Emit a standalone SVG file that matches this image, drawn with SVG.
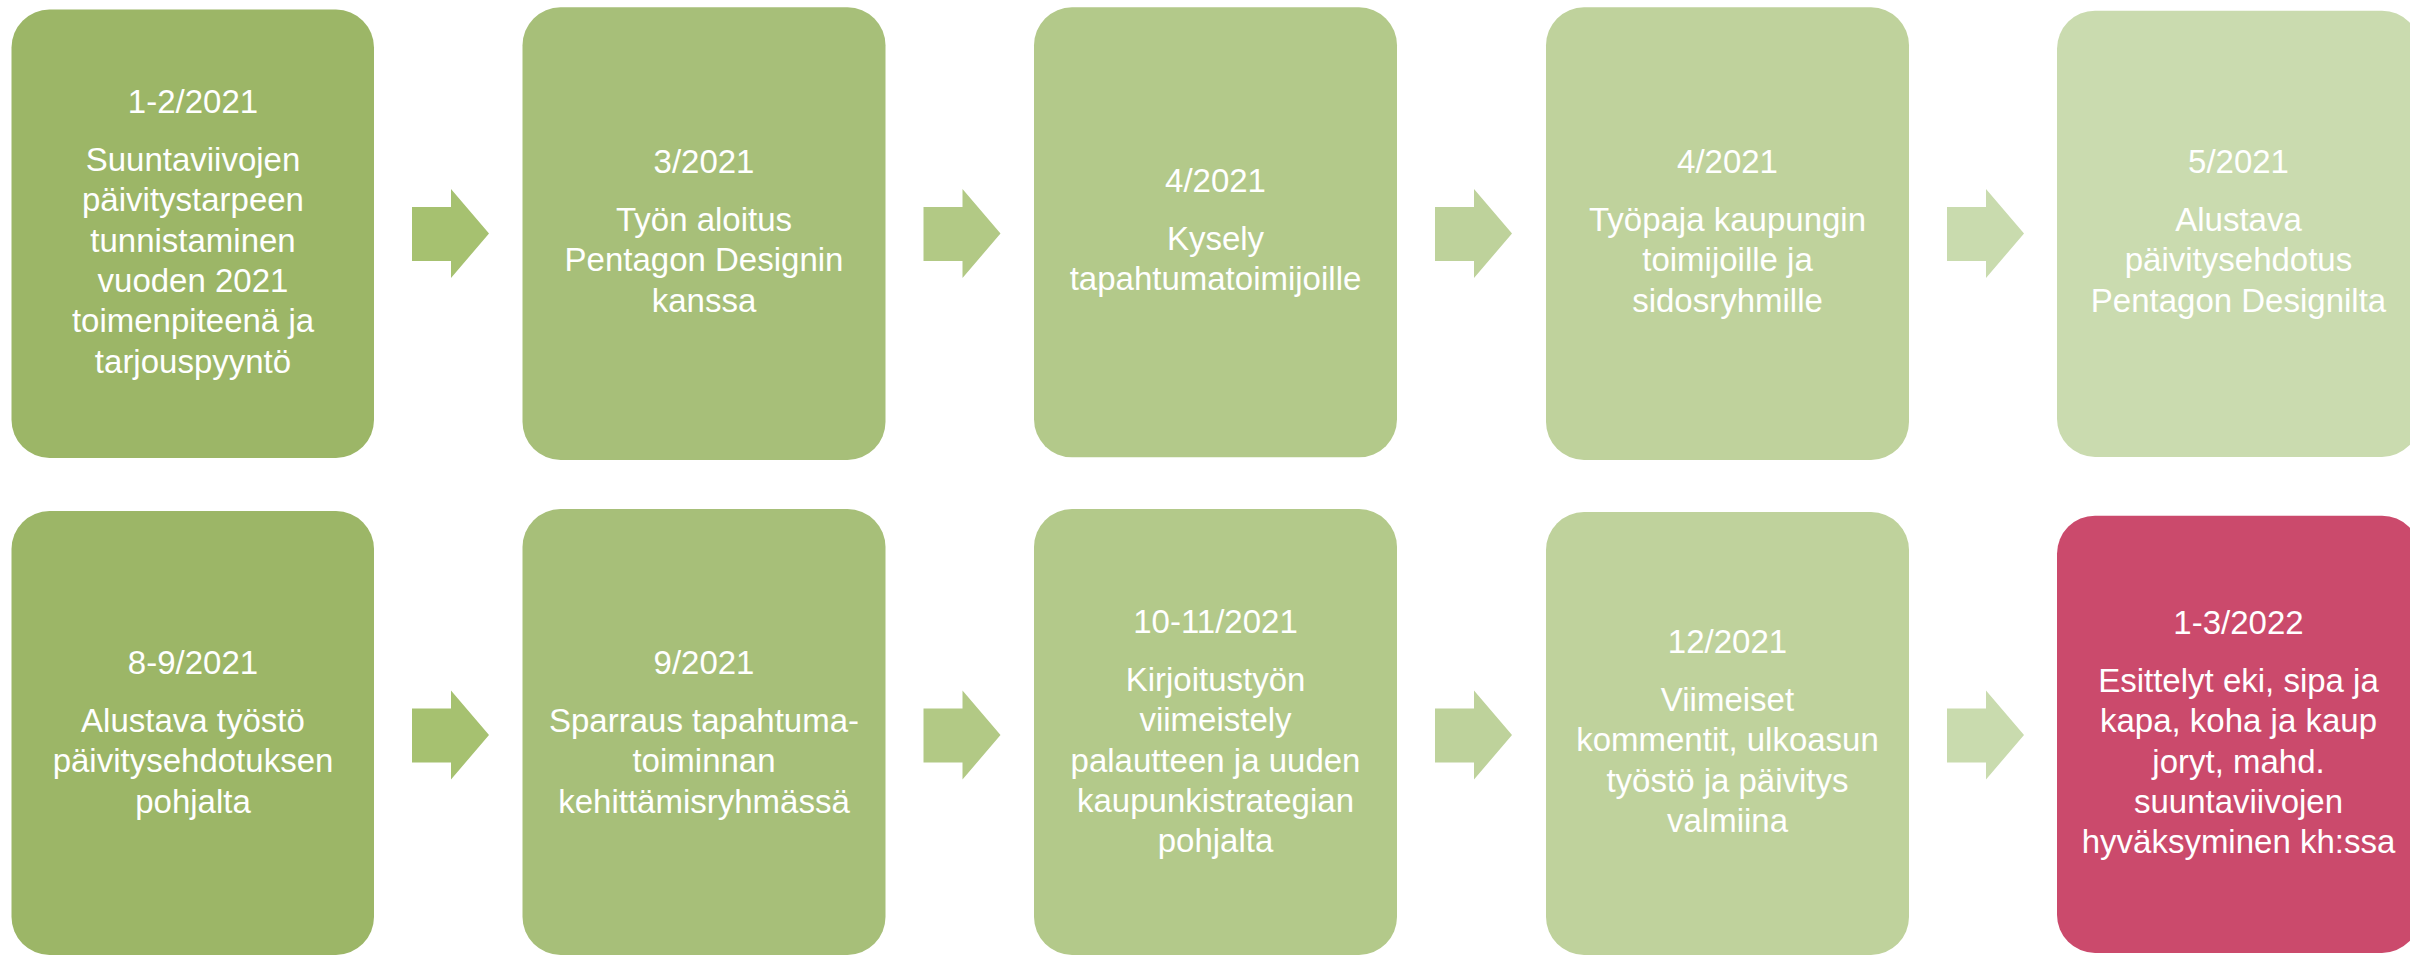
<svg xmlns="http://www.w3.org/2000/svg" width="2410" height="957" viewBox="0 0 2410 957">
<style>
text{font-family:"Liberation Sans",Arial,sans-serif;font-size:33px;fill:#ffffff;text-anchor:middle}
.c1{fill:#9cb667}.c2{fill:#a7bf79}.c3{fill:#b3c98a}.c4{fill:#bfd29c}.c5{fill:#cadbaf}.c6{fill:#cb4a6c}
.a1{fill:#a6c170}.a2{fill:#b2c985}.a3{fill:#bed29b}.a4{fill:#c9dbae}
</style>
<defs>
<path id="arr" d="M0,0 H39 V-18 L77,26.5 L39,71 V54 H0 Z"/>
</defs>
<rect width="2410" height="957" fill="#ffffff"/>
<g id="connectors">
<use href="#arr" class="a1" x="412" y="207"/>
<use href="#arr" class="a2" x="923.5" y="207"/>
<use href="#arr" class="a3" x="1435" y="207"/>
<use href="#arr" class="a4" x="1947" y="207"/>
<use href="#arr" class="a1" x="412" y="708.5"/>
<use href="#arr" class="a2" x="923.5" y="708.5"/>
<use href="#arr" class="a3" x="1435" y="708.5"/>
<use href="#arr" class="a4" x="1947" y="708.5"/>
</g>
<g id="n1">
<rect class="c1" x="11.5" y="9.5" width="362.5" height="448.5" rx="38"/>
<text x="193" y="113">1-2/2021</text>
<text x="193" y="171">Suuntaviivojen</text>
<text x="193" y="211.3">päivitystarpeen</text>
<text x="193" y="251.6">tunnistaminen</text>
<text x="193" y="291.9">vuoden 2021</text>
<text x="193" y="332.2">toimenpiteenä ja</text>
<text x="193" y="372.5">tarjouspyyntö</text>
</g>
<g id="n2">
<rect class="c2" x="522.5" y="7.3" width="363" height="452.7" rx="38"/>
<text x="704" y="173">3/2021</text>
<text x="704" y="231">Työn aloitus</text>
<text x="704" y="271.3">Pentagon Designin</text>
<text x="704" y="311.6">kanssa</text>
</g>
<g id="n3">
<rect class="c3" x="1034" y="7.3" width="363" height="450" rx="38"/>
<text x="1215.5" y="192">4/2021</text>
<text x="1215.5" y="250">Kysely</text>
<text x="1215.5" y="290.3">tapahtumatoimijoille</text>
</g>
<g id="n4">
<rect class="c4" x="1546" y="7.3" width="363" height="452.7" rx="38"/>
<text x="1727.5" y="173">4/2021</text>
<text x="1727.5" y="231">Työpaja kaupungin</text>
<text x="1727.5" y="271.3">toimijoille ja</text>
<text x="1727.5" y="311.6">sidosryhmille</text>
</g>
<g id="n5">
<rect class="c5" x="2057" y="10.7" width="363" height="446.3" rx="38"/>
<text x="2238.5" y="173">5/2021</text>
<text x="2238.5" y="231">Alustava</text>
<text x="2238.5" y="271.3">päivitysehdotus</text>
<text x="2238.5" y="311.6">Pentagon Designilta</text>
</g>
<g id="n6">
<rect class="c1" x="11.5" y="511" width="362.5" height="444" rx="38"/>
<text x="193" y="674">8-9/2021</text>
<text x="193" y="732">Alustava työstö</text>
<text x="193" y="772.3">päivitysehdotuksen</text>
<text x="193" y="812.6">pohjalta</text>
</g>
<g id="n7">
<rect class="c2" x="522.5" y="509" width="363" height="446" rx="38"/>
<text x="704" y="674">9/2021</text>
<text x="704" y="732">Sparraus tapahtuma-</text>
<text x="704" y="772.3">toiminnan</text>
<text x="704" y="812.6">kehittämisryhmässä</text>
</g>
<g id="n8">
<rect class="c3" x="1034" y="509" width="363" height="446" rx="38"/>
<text x="1215.5" y="633">10-11/2021</text>
<text x="1215.5" y="691">Kirjoitustyön</text>
<text x="1215.5" y="731.3">viimeistely</text>
<text x="1215.5" y="771.6">palautteen ja uuden</text>
<text x="1215.5" y="811.9">kaupunkistrategian</text>
<text x="1215.5" y="852.2">pohjalta</text>
</g>
<g id="n9">
<rect class="c4" x="1546" y="512" width="363" height="443" rx="38"/>
<text x="1727.5" y="653">12/2021</text>
<text x="1727.5" y="711">Viimeiset</text>
<text x="1727.5" y="751.3">kommentit, ulkoasun</text>
<text x="1727.5" y="791.6">työstö ja päivitys</text>
<text x="1727.5" y="831.9">valmiina</text>
</g>
<g id="n10">
<rect class="c6" x="2057" y="515.7" width="363" height="437.3" rx="38"/>
<text x="2238.5" y="634">1-3/2022</text>
<text x="2238.5" y="692">Esittelyt eki, sipa ja</text>
<text x="2238.5" y="732.3">kapa, koha ja kaup</text>
<text x="2238.5" y="772.6">joryt, mahd.</text>
<text x="2238.5" y="812.9">suuntaviivojen</text>
<text x="2238.5" y="853.2">hyväksyminen kh:ssa</text>
</g>
</svg>
